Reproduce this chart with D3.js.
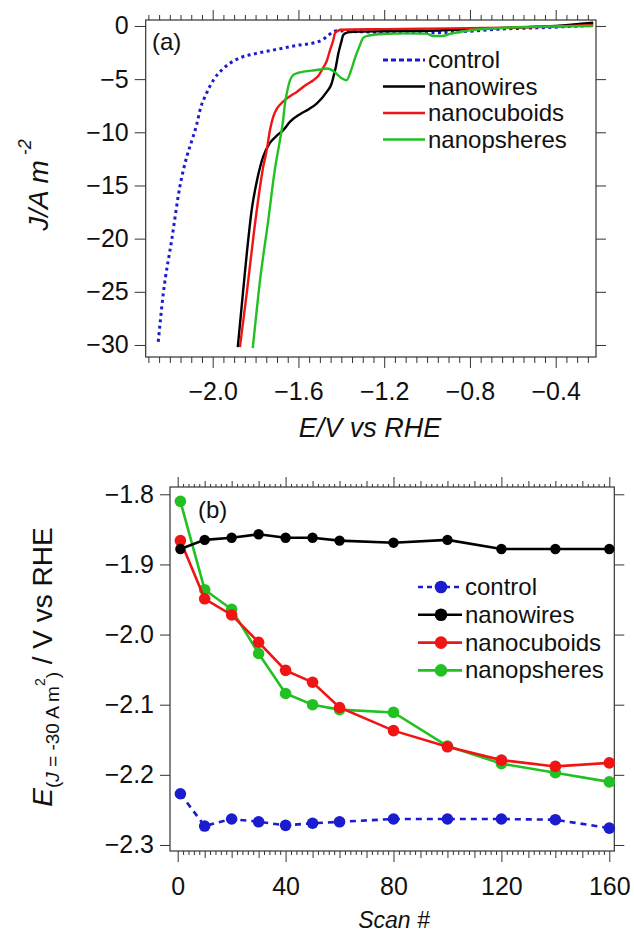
<!DOCTYPE html>
<html>
<head>
<meta charset="utf-8">
<script src="https://cdn.jsdelivr.net/npm/d3@7"></script>
<style>
  body { margin: 0; background: #fff; }
  text { font-family: "Liberation Sans", Arial, sans-serif; fill: #111; }
</style>
</head>
<body>
<div id="chart"></div>
<script>
// ---------- data : panel (a), linear sweep curves ----------
var seriesNames = ["control", "nanowires", "nanocuboids", "nanopsheres"];
var seriesColors = ["#1c1ccf", "#000000", "#f01414", "#22c022"];

var controlE = [-2.254, -2.230, -2.191, -2.153, -2.121, -2.096, -2.075, -2.059, -2.028, -1.997, -1.950, -1.919, -1.873, -1.800, -1.700, -1.600, -1.520, -1.484, -1.468, -1.437, -1.422, -1.375, -1.200, -1.000, -0.850, -0.660, -0.450, -0.225];
var controlJ = [-29.7, -25.1, -20.1, -15.1, -12.3, -10.7, -9.3, -7.9, -6.3, -5.1, -4.0, -3.5, -3.0, -2.6, -2.2, -1.8, -1.55, -1.25, -1.0, -0.55, -0.45, -0.5, -0.6, -0.65, -0.55, -0.3, -0.15, 0.05];

var wiresE = [-1.883, -1.865, -1.841, -1.818, -1.790, -1.765, -1.733, -1.700, -1.671, -1.639, -1.593, -1.550, -1.515, -1.468, -1.445, -1.437, -1.425, -1.414, -1.400, -1.391, -1.370, -1.344, -1.200, -1.000, -0.800, -0.600, -0.400, -0.225];
var wiresJ = [-30.2, -26.4, -21.4, -17.3, -14.2, -12.3, -11.0, -10.3, -9.8, -9.0, -8.3, -7.8, -7.3, -6.2, -5.4, -4.8, -3.8, -2.6, -1.5, -0.85, -0.6, -0.55, -0.5, -0.45, -0.3, -0.15, 0.0, 0.3];

var cuboidsE = [-1.873, -1.841, -1.810, -1.779, -1.764, -1.748, -1.733, -1.717, -1.701, -1.686, -1.660, -1.639, -1.608, -1.562, -1.530, -1.508, -1.484, -1.468, -1.453, -1.437, -1.430, -1.414, -1.406, -1.200, -1.000, -0.800, -0.600, -0.400, -0.225];
var cuboidsJ = [-30.2, -25.1, -19.8, -15.1, -13.2, -11.7, -9.8, -8.5, -7.8, -7.4, -6.9, -6.6, -6.2, -5.5, -5.1, -4.7, -3.9, -3.3, -2.3, -1.3, -0.7, -0.45, -0.35, -0.3, -0.25, -0.2, -0.15, -0.05, 0.1];

var spheresE = [-1.813, -1.779, -1.741, -1.710, -1.686, -1.671, -1.663, -1.655, -1.639, -1.624, -1.600, -1.577, -1.540, -1.499, -1.468, -1.440, -1.422, -1.400, -1.375, -1.355, -1.336, -1.315, -1.297, -1.270, -1.204, -1.100, -1.002, -0.971, -0.930, -0.893, -0.815, -0.660, -0.450, -0.225];
var spheresJ = [-30.3, -23.9, -18.3, -13.5, -10.7, -8.8, -7.3, -6.4, -5.1, -4.6, -4.4, -4.3, -4.2, -4.1, -4.0, -4.2, -4.5, -4.9, -5.1, -4.2, -3.0, -1.9, -1.1, -0.9, -0.75, -0.7, -0.72, -0.95, -0.95, -0.75, -0.45, -0.2, -0.05, 0.0];

var topXTicks = [-2.0, -1.6, -1.2, -0.8, -0.4];
var topYTicks = [0, -5, -10, -15, -20, -25, -30];

// ---------- data : panel (b), potential at -30 A m-2 vs scan ----------
var scans = [1, 10, 20, 30, 40, 50, 60, 80, 100, 120, 140, 160];
var controlPot = [-2.227, -2.273, -2.263, -2.267, -2.272, -2.269, -2.267, -2.263, -2.263, -2.263, -2.264, -2.276];
var wiresPot = [-1.878, -1.865, -1.862, -1.857, -1.862, -1.862, -1.866, -1.869, -1.865, -1.878, -1.878, -1.878];
var cuboidsPot = [-1.866, -1.949, -1.972, -2.011, -2.051, -2.068, -2.104, -2.137, -2.160, -2.179, -2.188, -2.183];
var spheresPot = [-1.810, -1.936, -1.964, -2.027, -2.084, -2.100, -2.107, -2.111, -2.159, -2.184, -2.197, -2.210];

var botXTicks = [0, 40, 80, 120, 160];
var botYTicks = [-1.8, -1.9, -2.0, -2.1, -2.2, -2.3];

var svg = d3.select("#chart").append("svg")
    .attr("width", 634)
    .attr("height", 933);

function styleAxis(g) {
  g.select(".domain").remove();
  g.selectAll(".tick line").attr("stroke", "#333").attr("stroke-width", 1);
  g.selectAll(".tick text").style("font-size", "25px").attr("fill", "#111");
}

// ================= panel (a) =================
var a = {left: 145.7, right: 596, top: 20, bottom: 357};

var xA = d3.scaleLinear().domain([-2.3125, -0.212]).range([a.left, a.right]);
var yA = d3.scaleLinear().domain([0.56, -31.13]).range([a.top, a.bottom]);

var minorA = d3.range(-2.30, -0.2, 0.05).filter(function (v) {
  return topXTicks.every(function (t) { return Math.abs(t - v) > 1e-6; });
});

// bottom axis
svg.append("g").attr("transform", "translate(0," + a.bottom + ")")
  .call(d3.axisBottom(xA).tickValues(minorA).tickSize(6).tickFormat(""))
  .call(styleAxis);
svg.append("g").attr("transform", "translate(0," + a.bottom + ")")
  .call(d3.axisBottom(xA).tickValues(topXTicks).tickSize(11).tickPadding(14).tickFormat(d3.format(".1f")))
  .call(styleAxis);
// top mirror
svg.append("g").attr("transform", "translate(0," + a.top + ")")
  .call(d3.axisTop(xA).tickValues(minorA).tickSize(5).tickFormat(""))
  .call(styleAxis);
svg.append("g").attr("transform", "translate(0," + a.top + ")")
  .call(d3.axisTop(xA).tickValues(topXTicks).tickSize(10).tickFormat(""))
  .call(styleAxis);
// left / right
svg.append("g").attr("transform", "translate(" + a.left + ",0)")
  .call(d3.axisLeft(yA).tickValues(topYTicks).tickSize(11).tickPadding(6).tickFormat(d3.format("d")))
  .call(styleAxis);
svg.append("g").attr("transform", "translate(" + a.right + ",0)")
  .call(d3.axisRight(yA).tickValues(topYTicks).tickSize(10).tickFormat(""))
  .call(styleAxis);

svg.append("rect")
  .attr("x", a.left).attr("y", a.top)
  .attr("width", a.right - a.left).attr("height", a.bottom - a.top)
  .attr("fill", "none").attr("stroke", "#333").attr("stroke-width", 1.2);

var curvesA = [
  {name: "control", E: controlE, J: controlJ},
  {name: "nanowires", E: wiresE, J: wiresJ},
  {name: "nanocuboids", E: cuboidsE, J: cuboidsJ},
  {name: "nanopsheres", E: spheresE, J: spheresJ}
];

var lineA = d3.line()
  .x(function (d) { return xA(d[0]); })
  .y(function (d) { return yA(d[1]); })
  .curve(d3.curveMonotoneX);

curvesA.forEach(function (c, i) {
  var pts = c.E.map(function (e, k) { return [e, c.J[k]]; });
  svg.append("path")
    .datum(pts)
    .attr("d", lineA)
    .attr("fill", "none")
    .attr("stroke", seriesColors[i])
    .attr("stroke-width", i === 0 ? 3 : 2.4)
    .attr("stroke-dasharray", i === 0 ? "3,3.5" : null)
    .attr("stroke-linejoin", "round");
});

// legend (a)
var legA = svg.append("g");
seriesNames.forEach(function (n, i) {
  var yy = 60 + i * 26.5;
  legA.append("line")
    .attr("x1", 383).attr("x2", 425).attr("y1", yy).attr("y2", yy)
    .attr("stroke", seriesColors[i])
    .attr("stroke-width", i === 0 ? 3 : 2.6)
    .attr("stroke-dasharray", i === 0 ? "5,3" : null);
  legA.append("text")
    .attr("x", 428).attr("y", yy + 8)
    .style("font-size", "24px")
    .text(n);
});

svg.append("text")
  .attr("x", 152).attr("y", 50)
  .style("font-size", "24px")
  .text("(a)");

// axis titles (a)
svg.append("text")
  .attr("x", 370).attr("y", 437)
  .attr("text-anchor", "middle")
  .style("font-size", "27px")
  .style("font-style", "italic")
  .text("E/V vs RHE");

var ytA = svg.append("text")
  .attr("transform", "translate(48,185) rotate(-90)")
  .attr("text-anchor", "middle")
  .style("font-size", "28px")
  .style("font-style", "italic");
ytA.append("tspan").text("J/A m");
ytA.append("tspan").attr("dy", -17).style("font-size", "18px").text(" -2");

// ================= panel (b) =================
var b = {left: 170, right: 614.3, top: 487, bottom: 851};

var xB = d3.scaleLinear().domain([-2.85, 161.85]).range([b.left, b.right]);
var yB = d3.scaleLinear().domain([-1.7896, -2.3086]).range([b.top, b.bottom]);

var minorB = d3.range(0, 161, 2).filter(function (v) { return v % 10 !== 0; });
var midB = d3.range(0, 161, 10).filter(function (v) { return v % 40 !== 0; });

[[minorB, 4, 3], [midB, 7, 6], [botXTicks, 11, 10]].forEach(function (set, k) {
  var bottomAxis = d3.axisBottom(xB).tickValues(set[0]).tickSize(set[1]);
  if (k === 2) bottomAxis.tickPadding(15).tickFormat(d3.format("d"));
  else bottomAxis.tickFormat("");
  svg.append("g").attr("transform", "translate(0," + b.bottom + ")")
    .call(bottomAxis).call(styleAxis);
  svg.append("g").attr("transform", "translate(0," + b.top + ")")
    .call(d3.axisTop(xB).tickValues(set[0]).tickSize(set[2]).tickFormat(""))
    .call(styleAxis);
});

svg.append("g").attr("transform", "translate(" + b.left + ",0)")
  .call(d3.axisLeft(yB).tickValues(botYTicks).tickSize(10).tickPadding(6).tickFormat(d3.format(".1f")))
  .call(styleAxis);
svg.append("g").attr("transform", "translate(" + b.right + ",0)")
  .call(d3.axisRight(yB).tickValues(botYTicks).tickSize(10).tickFormat(""))
  .call(styleAxis);

svg.append("rect")
  .attr("x", b.left).attr("y", b.top)
  .attr("width", b.right - b.left).attr("height", b.bottom - b.top)
  .attr("fill", "none").attr("stroke", "#333").attr("stroke-width", 1.2);

var seriesB = [
  {idx: 0, vals: controlPot},
  {idx: 3, vals: spheresPot},
  {idx: 2, vals: cuboidsPot},
  {idx: 1, vals: wiresPot}
];

var lineB = d3.line()
  .x(function (d) { return xB(d[0]); })
  .y(function (d) { return yB(d[1]); });

seriesB.forEach(function (s) {
  var pts = scans.map(function (sc, k) { return [sc, s.vals[k]]; });
  var col = seriesColors[s.idx];
  svg.append("path")
    .datum(pts)
    .attr("d", lineB)
    .attr("fill", "none")
    .attr("stroke", col)
    .attr("stroke-width", 2.6)
    .attr("stroke-dasharray", s.idx === 0 ? "6,5" : null);
  svg.append("g").selectAll("circle")
    .data(pts).enter().append("circle")
    .attr("cx", function (d) { return xB(d[0]); })
    .attr("cy", function (d) { return yB(d[1]); })
    .attr("r", s.idx === 1 ? 5.2 : 5.8)
    .attr("fill", col);
});

// legend (b)
var legB = svg.append("g");
seriesNames.forEach(function (n, i) {
  var yy = 587 + i * 27.8;
  legB.append("line")
    .attr("x1", 418).attr("x2", 462).attr("y1", yy).attr("y2", yy)
    .attr("stroke", seriesColors[i])
    .attr("stroke-width", 2.6)
    .attr("stroke-dasharray", i === 0 ? "5,4" : null);
  legB.append("circle")
    .attr("cx", 441).attr("cy", yy).attr("r", 6.3)
    .attr("fill", seriesColors[i]);
  legB.append("text")
    .attr("x", 465).attr("y", yy + 8)
    .style("font-size", "24px")
    .text(n);
});

svg.append("text")
  .attr("x", 198).attr("y", 518)
  .style("font-size", "24px")
  .text("(b)");

svg.append("text")
  .attr("x", 394).attr("y", 928)
  .attr("text-anchor", "middle")
  .style("font-size", "23px")
  .style("font-style", "italic")
  .text("Scan #");

var ytB = svg.append("text")
  .attr("transform", "translate(52,667) rotate(-90)")
  .attr("text-anchor", "middle")
  .style("font-size", "28px");
ytB.append("tspan").style("font-style", "italic").text("E");
ytB.append("tspan").attr("dy", 7).style("font-size", "19px").text("(");
ytB.append("tspan").style("font-size", "19px").style("font-style", "italic").text("J");
ytB.append("tspan").style("font-size", "19px").text(" = -30 A m");
ytB.append("tspan").attr("dy", -14).style("font-size", "14px").text("2");
ytB.append("tspan").attr("dy", 14).style("font-size", "19px").text(")");
ytB.append("tspan").attr("dy", -7).text(" / V vs RHE");
</script>
</body>
</html>
